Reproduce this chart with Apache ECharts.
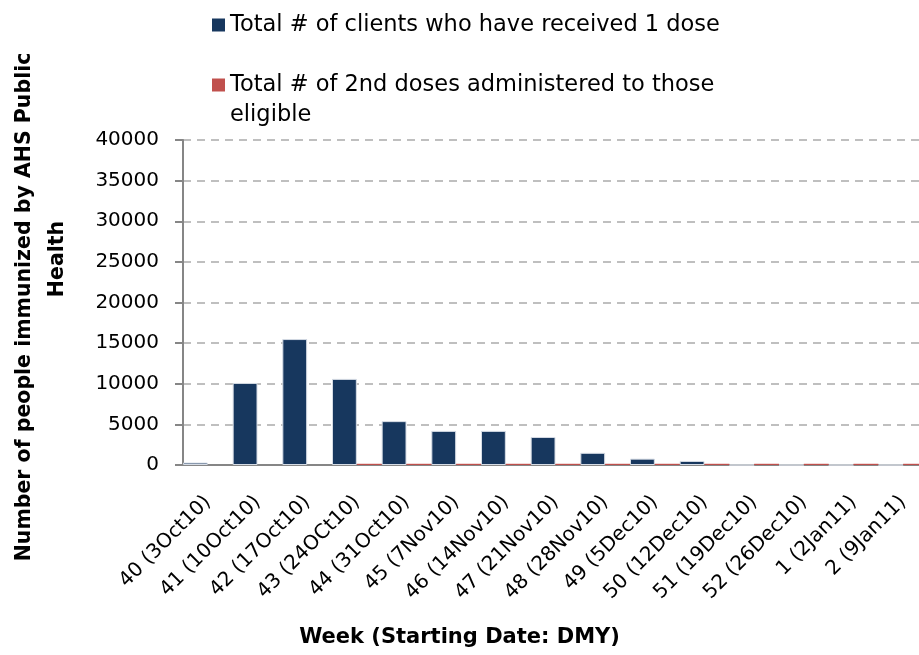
<!DOCTYPE html>
<html>
<head>
<meta charset="utf-8">
<script src="https://cdn.jsdelivr.net/npm/echarts@6/dist/echarts.min.js"></script>
<style>
  html, body { margin: 0; padding: 0; background: #fff; }
  #main { width: 919px; height: 655px; }
</style>
</head>
<body>
<div id="main"></div>
<script>
// week labels (week number + start date)
var weeks = ['40 (3Oct10)', '41 (10Oct10)', '42 (17Oct10)', '43 (24OCt10)', '44 (31Oct10)',
    '45 (7Nov10)', '46 (14Nov10)', '47 (21Nov10)', '48 (28Nov10)', '49 (5Dec10)',
    '50 (12Dec10)', '51 (19Dec10)', '52 (26Dec10)', '1 (2Jan11)', '2 (9Jan11)'];
var firstDose = [300, 10100, 15500, 10600, 5400, 4200, 4200, 3450, 1500, 780, 500, 0, 0, 0, 0];
var secondDose = [0, 0, 0, 150, 150, 150, 150, 150, 150, 150, 150, 150, 150, 150, 150];

var name1 = 'Total # of clients who have received 1 dose';
var name2 = 'Total # of 2nd doses administered to those eligible';

var font = 'DejaVu Sans';
var myChart = echarts.init(document.getElementById('main'));

myChart.setOption({
    animation: false,
    legend: [
        {
            data: [name1],
            left: 207, top: 7,
            itemWidth: 13, itemHeight: 13,
            icon: 'rect',
            itemStyle: {borderWidth: 0},
            textStyle: {fontFamily: font, fontSize: 22.5, color: '#000', lineHeight: 26}
        },
        {
            data: [name2],
            left: 207, top: 35,
            itemWidth: 13, itemHeight: 13,
            icon: 'rect',
            itemStyle: {borderWidth: 0},
            // blank first line keeps the marker level with the first text line
            formatter: function () { return '\nTotal # of 2nd doses administered to those\neligible'; },
            textStyle: {fontFamily: font, fontSize: 22.5, color: '#000', lineHeight: 30}
        }
    ],
    grid: {left: 183, top: 140, width: 745, height: 325, containLabel: false, outerBoundsMode: 'none'},
    xAxis: {
        type: 'category',
        data: weeks,
        axisLine: {lineStyle: {color: '#868686', width: 2}},
        axisTick: {length: 7, lineStyle: {color: '#868686', width: 2}},
        axisLabel: {rotate: 45, interval: 0, fontFamily: font, fontSize: 20, color: '#000', margin: 34}
    },
    yAxis: {
        type: 'value',
        min: 0, max: 40000, interval: 5000,
        axisLine: {show: true, lineStyle: {color: '#868686', width: 2}},
        axisTick: {show: true, length: 8, lineStyle: {color: '#868686', width: 2}},
        axisLabel: {fontFamily: font, fontSize: 20, color: '#000', margin: 24,
            formatter: function (v) { return String(v); }},
        splitLine: {lineStyle: {color: '#BFBFBF', type: [8, 6], width: 2}}
    },
    graphic: [
        {
            type: 'text', left: 'center', top: 627,
            style: {text: 'Week (Starting Date: DMY)', fontFamily: font, fontWeight: 'bold', fontSize: 21, fill: '#000'}
        },
        {
            type: 'text', x: 25, y: 307, rotation: Math.PI / 2,
            style: {text: 'Number of people immunized by AHS Public', fontFamily: font, fontWeight: 'bold', fontSize: 20.5,
                fill: '#000', align: 'center', verticalAlign: 'middle'}
        },
        {
            type: 'text', x: 58, y: 259, rotation: Math.PI / 2,
            style: {text: 'Health', fontFamily: font, fontWeight: 'bold', fontSize: 20.5,
                fill: '#000', align: 'center', verticalAlign: 'middle'}
        }
    ],
    series: [
        {
            name: name1, type: 'bar', data: firstDose,
            barGap: '0%', barCategoryGap: '0%',
            itemStyle: {color: '#17375E', borderColor: '#D6DCE5', borderWidth: 1}
        },
        {
            name: name2, type: 'bar', data: secondDose,
            itemStyle: {color: '#C0504D'}
        }
    ]
});
</script>
</body>
</html>
